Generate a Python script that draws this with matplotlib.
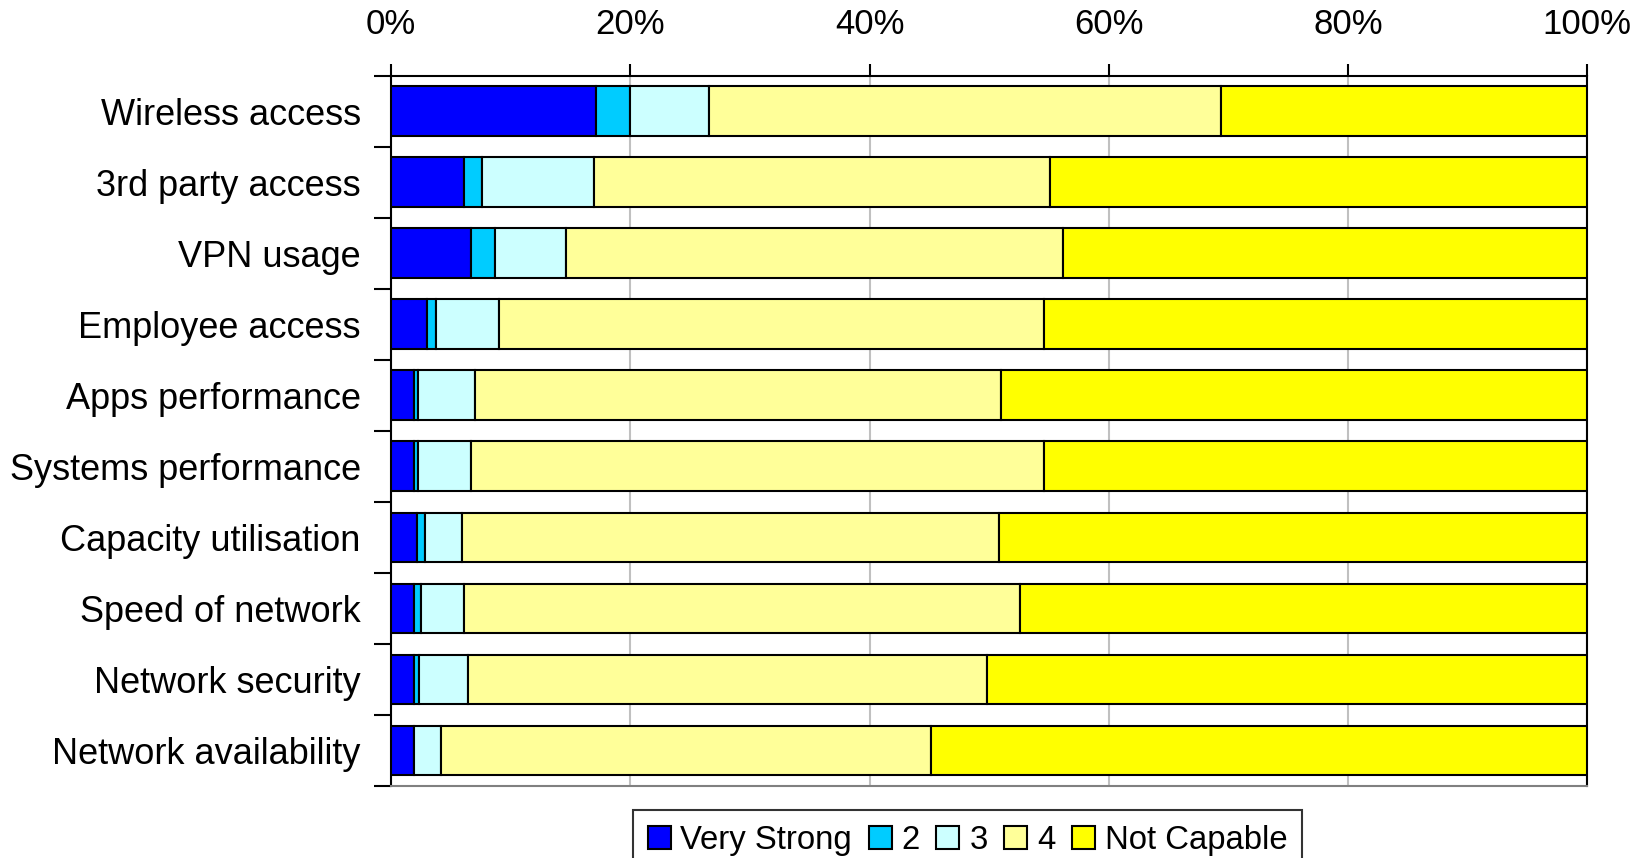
import matplotlib
matplotlib.use('Agg')
import matplotlib.pyplot as plt
import numpy as np

plt.rcParams['font.family'] = ['Liberation Sans', 'DejaVu Sans']

categories = ['Wireless access', '3rd party access', 'VPN usage', 'Employee access',
              'Apps performance', 'Systems performance', 'Capacity utilisation',
              'Speed of network', 'Network security', 'Network availability']

series_names = ['Very Strong', '2', '3', '4', 'Not Capable']
colors = ['#0000FF', '#00CCFF', '#CCFFFF', '#FFFF99', '#FFFF00']

# percent of responses per category
very_strong = [17.1, 6.1, 6.65, 2.95, 1.9, 1.9, 2.15, 1.9, 1.9, 1.9]
two = [2.9, 1.5, 2.05, 0.8, 0.3, 0.3, 0.65, 0.6, 0.45, 0.0]
three = [6.6, 9.35, 5.9, 5.3, 4.8, 4.5, 3.1, 3.6, 4.05, 2.3]
four = [42.75, 38.1, 41.55, 45.55, 44.0, 47.85, 44.95, 46.45, 43.4, 40.9]
not_capable = [30.65, 44.95, 43.85, 45.4, 49.0, 45.45, 49.15, 47.45, 50.2, 54.9]

series = [very_strong, two, three, four, not_capable]

fig = plt.figure(figsize=(16.37, 8.58), dpi=100)
ax = fig.add_axes([0.239, 0.0839, 0.7305, 0.8279])

y = np.arange(len(categories))
left = np.zeros(len(categories))
for vals, name, col in zip(series, series_names, colors):
    vals = np.array(vals)
    ax.barh(y, vals, left=left, height=0.7, color=col, edgecolor='black',
            linewidth=1.5, label=name, zorder=3)
    left += vals

ax.set_xlim(0, 100)
ax.set_ylim(len(categories) - 0.5, -0.5)

ax.xaxis.tick_top()
ax.set_xticks([0, 20, 40, 60, 80, 100])
ax.set_xticklabels(['0%', '20%', '40%', '60%', '80%', '100%'], fontsize=25)
ax.tick_params(axis='x', direction='out', length=9, width=1.5, pad=16)
ax.xaxis.grid(True, color='#c0c0c0', linewidth=1.5, zorder=0)

ax.set_yticks(y)
ax.set_yticklabels(categories, fontsize=26)
ax.tick_params(axis='y', which='major', length=0, pad=22)
ax.set_yticks(np.arange(-0.5, len(categories)), minor=True)
ax.tick_params(axis='y', which='minor', direction='out', length=12, width=1.5)

for side in ['left', 'top', 'right']:
    ax.spines[side].set_linewidth(1.5)
    ax.spines[side].set_color('black')
ax.spines['bottom'].set_color('#808080')
ax.spines['bottom'].set_linewidth(1.5)

leg = fig.legend(loc='upper center', bbox_to_anchor=(0.591, 0.056), ncol=5,
                 fontsize=23.7, frameon=True, fancybox=False, edgecolor='black',
                 handlelength=0.7, handleheight=0.7, handletextpad=0.3,
                 columnspacing=0.5, borderpad=0.45, borderaxespad=0)
leg.get_frame().set_linewidth(1.5)

plt.savefig('out.png', dpi=100)
